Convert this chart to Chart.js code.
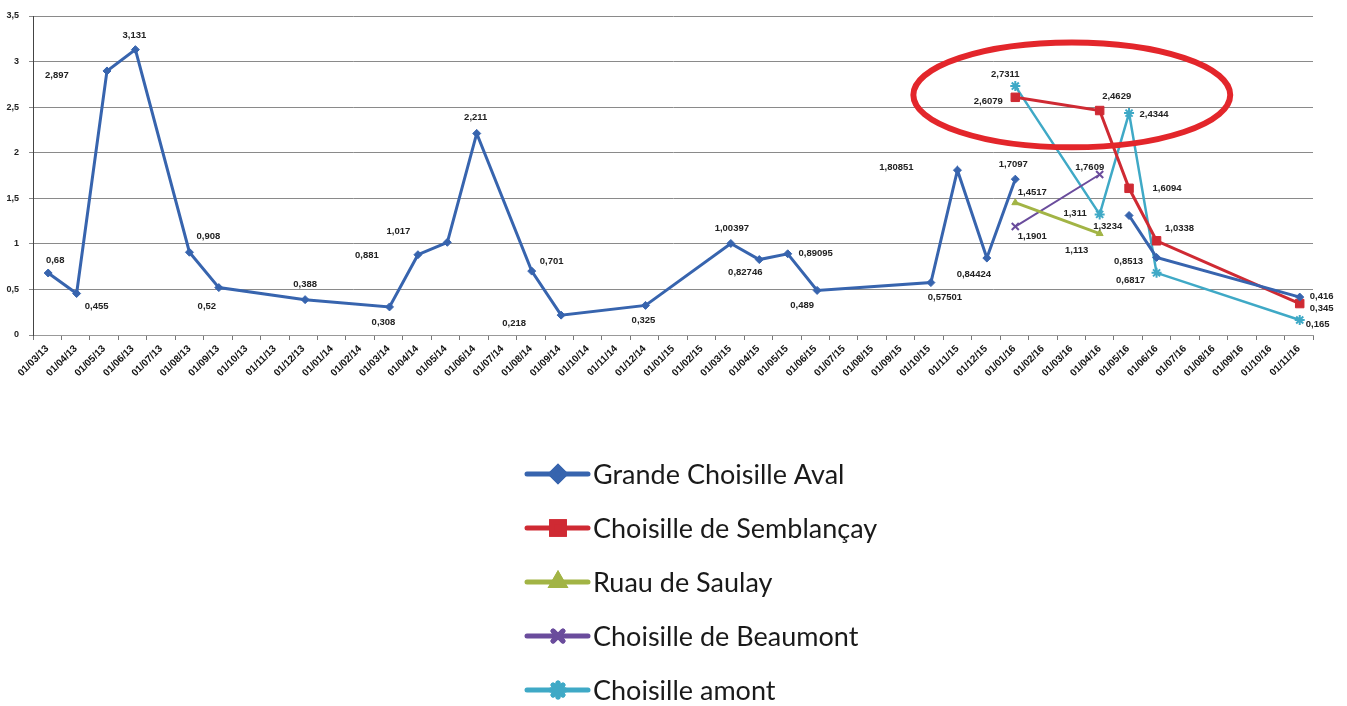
<!DOCTYPE html>
<html>
<head>
<meta charset="utf-8">
<script src="https://cdn.jsdelivr.net/npm/chart.js@4.4.0/dist/chart.umd.min.js"></script>
<style>
html, body { margin: 0; padding: 0; background: #fff; }
#wrap { width: 1347px; height: 706px; }
</style>
</head>
<body>
<div id="wrap"><canvas id="chart"></canvas></div>
<script>
// x axis categories (one per month)
const monthLabels = [
    '01/03/13', '01/04/13', '01/05/13', '01/06/13', '01/07/13', '01/08/13', '01/09/13', '01/10/13', '01/11/13', '01/12/13',
    '01/01/14', '01/02/14', '01/03/14', '01/04/14', '01/05/14', '01/06/14', '01/07/14', '01/08/14', '01/09/14', '01/10/14',
    '01/11/14', '01/12/14', '01/01/15', '01/02/15', '01/03/15', '01/04/15', '01/05/15', '01/06/15', '01/07/15', '01/08/15',
    '01/09/15', '01/10/15', '01/11/15', '01/12/15', '01/01/16', '01/02/16', '01/03/16', '01/04/16', '01/05/16', '01/06/16',
    '01/07/16', '01/08/16', '01/09/16', '01/10/16', '01/11/16'
];

// sampling dates and values
const avalDates = ['02/03/13', '02/04/13', '04/05/13', '04/06/13', '01/08/13', '02/09/13', '03/12/13', '02/03/14', '02/04/14',
    '03/05/14', '04/06/14', '02/08/14', '03/09/14', '02/12/14', '02/03/15', '02/04/15', '02/05/15', '03/06/15', '03/10/15',
    '01/11/15', '02/12/15', '02/01/16', '01/03/16', '02/05/16', '01/06/16', '02/11/16'];
const avalValues = [0.68, 0.455, 2.897, 3.131, 0.908, 0.52, 0.388, 0.308, 0.881,
    1.017, 2.211, 0.701, 0.218, 0.325, 1.00397, 0.82746, 0.89095, 0.489, 0.57501,
    1.80851, 0.84424, 1.7097, null, 1.311, 0.8513, 0.416];

const upstreamDates = ['02/01/16', '01/04/16', '02/05/16', '01/06/16', '02/11/16'];
const semblancayValues = [2.6079, 2.4629, 1.6094, 1.0338, 0.345];
const amontValues = [2.7311, 1.3234, 2.4344, 0.6817, 0.165];

const shortDates = ['02/01/16', '01/04/16'];
const saulayValues = [1.4517, 1.113];
const beaumontValues = [1.1901, 1.7609];

// where each value label sits relative to its point (px)
const avalLabelPos = [[7, -13], [20, 13], [-50, 4], [-1, -14], [19, -16], [-12, 19], [0, -15], [-6, 15], [-51, 1],
    [-49, -11], [-1, -16], [20, -10], [-47, 8], [-2, 15], [1, -15], [-14, 13], [28, 0], [-15, 15], [14, 15],
    [-61, -3], [-13, 16], [-2, -15], null, [-54, -2], [-28, 4], [22, -1]];
const semblancayLabelPos = [[-27, 4], [17, -14], [38, 0], [23, -12], [22, 5]];
const amontLabelPos = [[-10, -12], [8, 12], [25, 1], [-26, 8], [18, 4]];
const saulayLabelPos = [[17, -10], [-23, 17]];
const beaumontLabelPos = [[17, 10], [-10, -7]];

// month position on the axis, 0 = march 2013
function monthPos(d) {
    const [dd, mm, yy] = d.split('/').map(Number);
    return (yy - 13) * 12 + (mm - 3) + (dd - 1) / 30;
}

function points(dates, values) {
    return dates.map((d, i) => ({ x: monthPos(d), y: values[i] }));
}

const fmt = v => String(v).replace('.', ',');

function series(label, dates, values, color, style, radius, width, labelPos) {
    return {
        label: label,
        data: points(dates, values),
        borderColor: color,
        backgroundColor: color,
        pointBackgroundColor: color,
        pointBorderColor: color,
        pointStyle: style,
        pointRadius: radius,
        pointBorderWidth: style === 'star' || style === 'crossRot' ? 2 : 1,
        borderWidth: width,
        tension: 0,
        spanGaps: false,
        labelPos: labelPos
    };
}

const valueLabels = {
    id: 'valueLabels',
    afterDatasetsDraw(chart) {
        const ctx = chart.ctx;
        ctx.save();
        ctx.font = 'bold 9.5px "Liberation Sans", Arial, sans-serif';
        ctx.fillStyle = '#222';
        ctx.textAlign = 'center';
        ctx.textBaseline = 'middle';
        chart.data.datasets.forEach((ds, di) => {
            const meta = chart.getDatasetMeta(di);
            meta.data.forEach((el, i) => {
                const v = ds.data[i].y;
                const off = ds.labelPos[i];
                if (v === null || !off) return;
                ctx.fillText(fmt(v), el.x + off[0], el.y + off[1]);
            });
        });
        ctx.restore();
    }
};

// red ellipse drawn on the chart, in data units
const ring = { x: 36.02, y: 2.634, rx: 5.57, ry: 0.575 };

const ringPlugin = {
    id: 'ring',
    afterDatasetsDraw(chart) {
        const { ctx, scales: { x, y } } = chart;
        const cx = x.getPixelForValue(ring.x);
        const cy = y.getPixelForValue(ring.y);
        const rx = x.getPixelForValue(ring.x + ring.rx) - cx;
        const ry = cy - y.getPixelForValue(ring.y + ring.ry);
        ctx.save();
        ctx.beginPath();
        ctx.ellipse(cx, cy, rx, ry, 0, 0, Math.PI * 2);
        ctx.strokeStyle = '#e3262b';
        ctx.lineWidth = 6;
        ctx.stroke();
        ctx.restore();
    }
};

// vertical legend under the plot
const stackedLegend = {
    id: 'stackedLegend',
    afterDraw(chart) {
        const ctx = chart.ctx;
        const left = 527, top = 474, gap = 54;
        ctx.save();
        chart.data.datasets.forEach((ds, i) => {
            const yy = top + i * gap;
            ctx.strokeStyle = ds.borderColor;
            ctx.lineWidth = 5;
            ctx.lineCap = 'round';
            ctx.beginPath();
            ctx.moveTo(left, yy);
            ctx.lineTo(left + 61, yy);
            ctx.stroke();
            Chart.helpers.drawPoint(ctx, {
                pointStyle: ds.pointStyle,
                radius: ds.pointStyle === 'rect' ? 9 : 7,
                borderWidth: 2.5
            }, left + 31, yy);
            ctx.fillStyle = ds.borderColor;
            ctx.fill();
            ctx.stroke();
            ctx.fillStyle = '#1a1a1a';
            ctx.font = '27px Lato, "Open Sans", sans-serif';
            ctx.textAlign = 'left';
            ctx.textBaseline = 'middle';
            ctx.fillText(ds.label, left + 66, yy + 1);
        });
        ctx.restore();
    }
};

new Chart(document.getElementById('chart'), {
    type: 'line',
    data: {
        datasets: [
            series('Grande Choisille Aval', avalDates, avalValues, '#3764ae', 'rectRot', 4, 3, avalLabelPos),
            series('Choisille de Semblançay', upstreamDates, semblancayValues, '#cf2a33', 'rect', 6, 3, semblancayLabelPos),
            series('Ruau de Saulay', shortDates, saulayValues, '#a2b445', 'triangle', 4, 3, saulayLabelPos),
            series('Choisille de Beaumont', shortDates, beaumontValues, '#6a4c9c', 'crossRot', 5, 2, beaumontLabelPos),
            series('Choisille amont', upstreamDates, amontValues, '#3fa9c6', 'star', 5, 2.5, amontLabelPos)
        ]
    },
    options: {
        responsive: true,
        maintainAspectRatio: false,
        animation: false,
        layout: { padding: { top: 16, right: 34, bottom: 306, left: 0 } },
        plugins: {
            legend: { display: false },
            tooltip: { enabled: false }
        },
        scales: {
            x: {
                type: 'linear',
                min: -0.5,
                max: 44.5,
                afterBuildTicks: s => { s.ticks = monthLabels.map((_, i) => ({ value: i })); },
                afterFit: s => { s.height = 65; },
                ticks: {
                    autoSkip: false,
                    minRotation: 45,
                    maxRotation: 45,
                    padding: 3,
                    color: '#111',
                    font: { family: '"Liberation Sans", Arial, sans-serif', weight: 'bold', size: 10 },
                    callback: v => monthLabels[v]
                },
                grid: { offset: true, drawOnChartArea: false, tickLength: 5, color: '#777' },
                border: { color: '#999' }
            },
            y: {
                min: 0,
                max: 3.5,
                afterFit: s => { s.width = 33; },
                ticks: {
                    stepSize: 0.5,
                    padding: 10,
                    color: '#222',
                    font: { family: '"Liberation Sans", Arial, sans-serif', weight: 'bold', size: 9 },
                    callback: v => fmt(v)
                },
                grid: { color: '#8a8a8a', tickLength: 4 },
                border: { color: '#444' }
            }
        }
    },
    plugins: [valueLabels, ringPlugin, stackedLegend]
});
</script>
</body>
</html>
